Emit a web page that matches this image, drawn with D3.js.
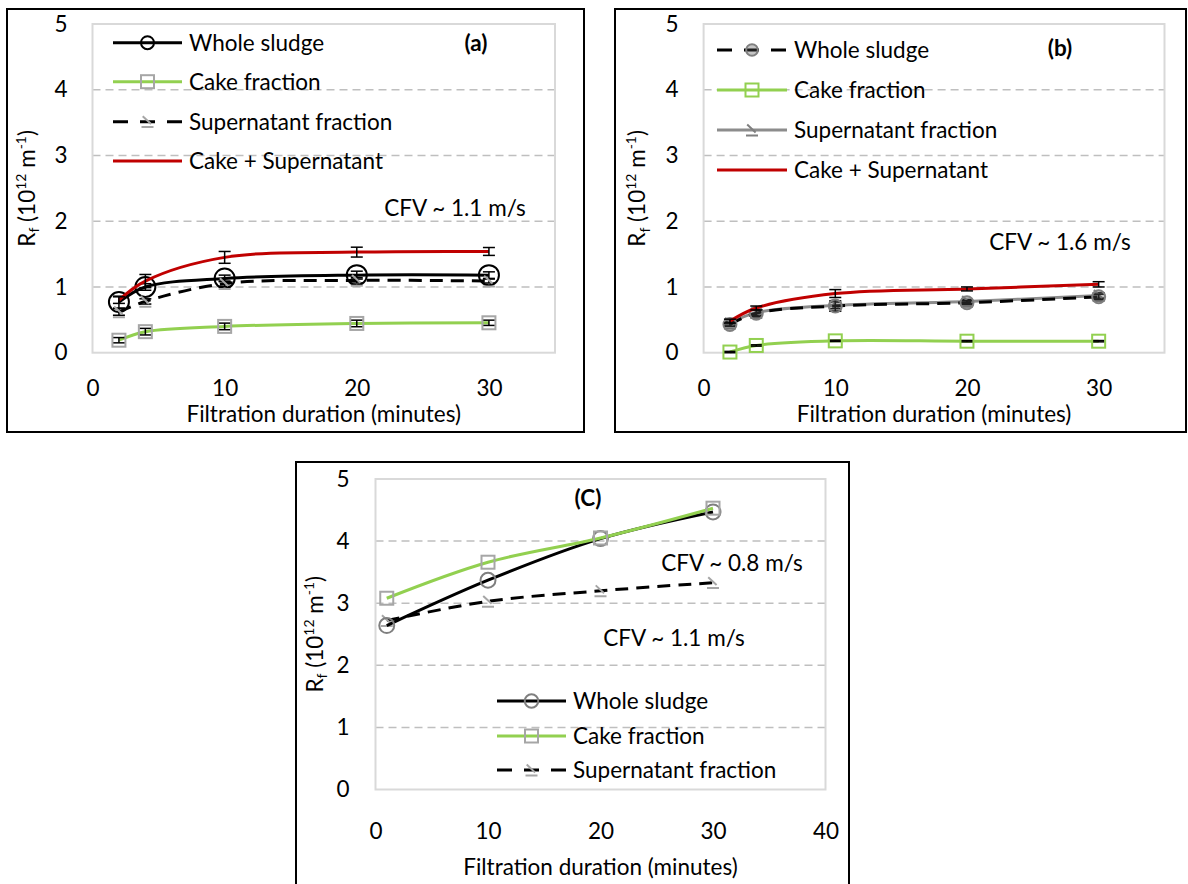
<!DOCTYPE html>
<html>
<head>
<meta charset="utf-8">
<script src="https://cdn.jsdelivr.net/npm/d3@7"></script>
<style>
  body { margin: 0; background: #fff; }
  svg { display: block; font-family: Lato, "Open Sans", sans-serif; }
</style>
</head>
<body>
<svg id="chart" width="1188" height="884"></svg>
<script>
// ---- Filtration times (minutes) ----
const minutesAB = [2, 4, 10, 20, 30];
const minutesC = [1, 10, 20, 30];

// ---- Panel (a): CFV ~ 1.1 m/s, fouling resistance (10^12 m^-1) ----
const wholeA = [0.77, 1.00, 1.13, 1.18, 1.18];
const wholeAErr = [0.09, 0.05, 0.05, 0.06, 0.05];
const cakeA = [0.19, 0.32, 0.40, 0.445, 0.455];
const cakeAErr = [0.04, 0.05, 0.05, 0.05, 0.04];
const superA = [0.62, 0.78, 1.05, 1.10, 1.09];
const superAErr = [0.05, 0.04, 0.04, 0.04, 0.03];
const sumA = [0.80, 1.09, 1.45, 1.53, 1.54];
const sumAErr = [0.05, 0.10, 0.09, 0.075, 0.06];

// ---- Panel (b): CFV ~ 1.6 m/s ----
const wholeB = [0.43, 0.60, 0.71, 0.76, 0.85];
const wholeBErr = [0.03, 0.05, 0.08, 0.03, 0.04];
const cakeB = [0.01, 0.11, 0.18, 0.175, 0.175];
const cakeBErr = [0.01, 0.01, 0.01, 0.01, 0.01];
const superB = [0.45, 0.61, 0.72, 0.78, 0.87];
const superBErr = [0.03, 0.04, 0.05, 0.03, 0.04];
const sumB = [0.48, 0.68, 0.90, 0.97, 1.04];
const sumBErr = [0.03, 0.03, 0.06, 0.03, 0.04];

// ---- Panel (c): whole sludge vs fractions ----
const wholeC = [2.64, 3.37, 4.04, 4.47];
const cakeC = [3.08, 3.66, 4.05, 4.53];
const superC = [2.72, 3.03, 3.20, 3.33];

// ---- Axis ticks ----
const yTicks = [0, 1, 2, 3, 4, 5];
const xTicksAB = [0, 10, 20, 30];
const xTicksC = [0, 10, 20, 30, 40];

// ---- Series labels ----
const lblWhole = "Whole sludge";
const lblCake = "Cake fraction";
const lblSuper = "Supernatant fraction";
const lblSum = "Cake + Supernatant";

const RED = "#c00000", GREEN = "#92d050", GRAY = "#a6a6a6", DGRAY = "#7f7f7f";
const FS = 22.5;

const svg = d3.select("#chart");
const smooth = d3.curveCatmullRom.alpha(0.5);

function drawMarker(g, m, cx, cy, scale) {
  const s = scale || 1;
  if (!m) return;
  if (m.type === "circle") {
    g.append("circle").attr("cx", cx).attr("cy", cy).attr("r", m.size * s)
      .attr("fill", m.fill || "none").attr("stroke", m.stroke).attr("stroke-width", 2);
  } else if (m.type === "square") {
    const h = m.size * s;
    g.append("rect").attr("x", cx - h).attr("y", cy - h).attr("width", 2 * h).attr("height", 2 * h)
      .attr("fill", m.fill || "none").attr("stroke", m.stroke).attr("stroke-width", 2);
  } else if (m.type === "angle") {
    const h = m.size * s;
    g.append("path")
      .attr("d", `M${cx - h * 0.8},${cy - h * 0.9} L${cx + h * 0.6},${cy + h * 0.4} M${cx - h},${cy + h * 0.9} L${cx + h},${cy + h * 0.9}`)
      .attr("fill", "none").attr("stroke", m.stroke).attr("stroke-width", 2);
  }
}

function yTitle(g, cx, cy) {
  const t = g.append("text")
    .attr("transform", `translate(${cx},${cy}) rotate(-90)`)
    .attr("text-anchor", "middle").attr("font-size", FS).attr("fill", "#000");
  const sm = FS * 0.62;
  t.append("tspan").text("R");
  t.append("tspan").attr("font-size", sm).attr("dy", FS * 0.22).text("f");
  t.append("tspan").attr("dy", -FS * 0.22).text(" (10");
  t.append("tspan").attr("font-size", sm).attr("dy", -FS * 0.38).text("12");
  t.append("tspan").attr("dy", FS * 0.38).text(" m");
  t.append("tspan").attr("font-size", sm).attr("dy", -FS * 0.38).text("-1");
  t.append("tspan").attr("dy", FS * 0.38).text(")");
}

function drawPanel(p) {
  const g = svg.append("g");
  // outer frame
  g.append("rect").attr("x", p.box[0]).attr("y", p.box[1])
    .attr("width", p.box[2] - p.box[0]).attr("height", p.box[3] - p.box[1])
    .attr("fill", "#fff").attr("stroke", "#000").attr("stroke-width", 2);

  const x = d3.scaleLinear().domain([0, p.xMax]).range([p.left, p.right]);
  const y = d3.scaleLinear().domain([0, 5]).range([p.bottom, p.top]);

  // dashed gridlines
  g.selectAll(null).data(yTicks.filter(v => v > 0 && v < 5)).join("line")
    .attr("x1", p.left).attr("x2", p.right)
    .attr("y1", d => y(d)).attr("y2", d => y(d))
    .attr("stroke", "#bfbfbf").attr("stroke-width", 1.5).attr("stroke-dasharray", "8,5");

  // plot-area border
  g.append("rect").attr("x", p.left).attr("y", p.top)
    .attr("width", p.right - p.left).attr("height", p.bottom - p.top)
    .attr("fill", "none").attr("stroke", "#d9d9d9").attr("stroke-width", 2);

  // axes (labels only)
  const xa = g.append("g").attr("transform", `translate(0,${p.bottom})`)
    .call(d3.axisBottom(x).tickValues(p.xTicks).tickSize(0).tickPadding(p.xPad).tickFormat(d3.format("d")));
  const ya = g.append("g").attr("transform", `translate(${p.left},0)`)
    .call(d3.axisLeft(y).tickValues(yTicks).tickSize(0).tickPadding(p.yPad).tickFormat(d3.format("d")));
  [xa, ya].forEach(a => {
    a.select(".domain").remove();
    a.selectAll("text").attr("font-size", FS).attr("font-family", "Lato, sans-serif").attr("fill", "#000");
  });

  // axis titles
  g.append("text").attr("x", (p.left + p.right) / 2).attr("y", p.xTitleY)
    .attr("text-anchor", "middle").attr("font-size", FS).text("Filtration duration (minutes)");
  yTitle(g, p.left - p.yTitleOff, (p.top + p.bottom) / 2);

  // series
  const line = d3.line().x(d => x(d[0])).y(d => y(d[1])).curve(smooth);
  p.series.forEach(s => {
    const pts = s.values.map((v, i) => [p.times[i], v]);
    g.append("path").attr("d", line(pts)).attr("fill", "none")
      .attr("stroke", s.color).attr("stroke-width", 3)
      .attr("stroke-dasharray", s.dash || null);
    if (s.err) {
      s.values.forEach((v, i) => {
        const cx = x(p.times[i]);
        const y1 = y(v + s.err[i]), y0 = y(v - s.err[i]);
        const eg = g.append("g").attr("stroke", "#000").attr("stroke-width", 1.5);
        eg.append("line").attr("x1", cx).attr("x2", cx).attr("y1", y1).attr("y2", y0);
        eg.append("line").attr("x1", cx - 6).attr("x2", cx + 6).attr("y1", y1).attr("y2", y1);
        eg.append("line").attr("x1", cx - 6).attr("x2", cx + 6).attr("y1", y0).attr("y2", y0);
      });
    }
    s.values.forEach((v, i) => drawMarker(g, s.marker, x(p.times[i]), y(v)));
  });

  // legend
  p.legend.rows.forEach((s, k) => {
    const ly = p.legend.y[k];
    const x0 = p.legend.x, x1 = p.legend.x + p.legend.len;
    g.append("line").attr("x1", x0).attr("x2", x1).attr("y1", ly).attr("y2", ly)
      .attr("stroke", s.color).attr("stroke-width", 3)
      .attr("stroke-dasharray", s.dash ? s.legendDash : null);
    drawMarker(g, s.marker, (x0 + x1) / 2, ly, s.legendScale || 0.7);
    g.append("text").attr("x", x1 + 7).attr("y", ly).attr("dy", "0.35em")
      .attr("font-size", FS).text(s.name);
  });

  // annotations
  p.notes.forEach(n => {
    g.append("text").attr("x", n.x).attr("y", n.y).attr("dy", "0.35em")
      .attr("text-anchor", "middle").attr("font-size", FS)
      .attr("font-weight", n.bold ? "bold" : null).text(n.text);
  });
}

// ---------- Panel (a) ----------
const sA = [
  { name: lblWhole, values: wholeA, err: wholeAErr, color: "#000",
    marker: { type: "circle", size: 10, stroke: "#000" }, legendScale: 0.65 },
  { name: lblCake, values: cakeA, err: cakeAErr, color: GREEN,
    marker: { type: "square", size: 6.5, stroke: GRAY }, legendScale: 1 },
  { name: lblSuper, values: superA, err: superAErr, color: "#000", dash: "13,8",
    legendDash: "15,12,15,12,15",
    marker: { type: "angle", size: 6, stroke: GRAY }, legendScale: 1 },
  { name: lblSum, values: sumA, err: sumAErr, color: RED }
];
drawPanel({
  box: [7, 9, 584, 432], left: 92.5, right: 555, top: 24, bottom: 352.7,
  xMax: 35, xTicks: xTicksAB, times: minutesAB, xPad: 27, yPad: 25,
  xTitleY: 422, yTitleOff: 58,
  series: [sA[0], sA[1], sA[2], sA[3]],
  legend: { x: 113, len: 69, y: [42.7, 81.7, 121.7, 161], rows: sA },
  notes: [
    { text: "(a)", x: 476, y: 43, bold: true },
    { text: "CFV ~ 1.1 m/s", x: 455, y: 208 }
  ]
});

// ---------- Panel (b) ----------
const sB = [
  { name: lblWhole, values: wholeB, err: wholeBErr, color: "#000", dash: "13,8",
    legendDash: "15,12,15,12,15",
    marker: { type: "circle", size: 6.5, stroke: DGRAY, fill: "rgba(90,90,90,0.35)" }, legendScale: 0.9 },
  { name: lblCake, values: cakeB, err: cakeBErr, color: GREEN,
    marker: { type: "square", size: 6.5, stroke: GREEN }, legendScale: 1 },
  { name: lblSuper, values: superB, err: superBErr, color: "#8c8c8c",
    marker: { type: "angle", size: 6, stroke: DGRAY }, legendScale: 1 },
  { name: lblSum, values: sumB, err: sumBErr, color: RED }
];
drawPanel({
  box: [615, 9, 1186, 432], left: 703.6, right: 1164.5, top: 24, bottom: 352.7,
  xMax: 35, xTicks: xTicksAB, times: minutesAB, xPad: 27, yPad: 25,
  xTitleY: 422, yTitleOff: 59,
  series: [sB[2], sB[0], sB[1], sB[3]],
  legend: { x: 717, len: 70, y: [50, 90, 130, 170], rows: sB },
  notes: [
    { text: "(b)", x: 1060, y: 48, bold: true },
    { text: "CFV ~ 1.6 m/s", x: 1060, y: 242 }
  ]
});

// ---------- Panel (c) ----------
const sC = [
  { name: lblWhole, values: wholeC, color: "#000",
    marker: { type: "circle", size: 7.5, stroke: DGRAY }, legendScale: 0.9 },
  { name: lblCake, values: cakeC, color: GREEN,
    marker: { type: "square", size: 6.5, stroke: GRAY }, legendScale: 1 },
  { name: lblSuper, values: superC, color: "#000", dash: "13,8",
    legendDash: "15,12,15,12,15",
    marker: { type: "angle", size: 6, stroke: GRAY }, legendScale: 1 }
];
drawPanel({
  box: [296, 462, 849, 900], left: 375.5, right: 825.5, top: 479, bottom: 789.5,
  xMax: 40, xTicks: xTicksC, times: minutesC, xPad: 34, yPad: 26,
  xTitleY: 875, yTitleOff: 53,
  series: [sC[2], sC[0], sC[1]],
  legend: { x: 497, len: 69, y: [701, 736, 770], rows: sC },
  notes: [
    { text: "(C)", x: 588, y: 498, bold: true },
    { text: "CFV ~ 0.8 m/s", x: 732, y: 563 },
    { text: "CFV ~ 1.1 m/s", x: 674, y: 638 }
  ]
});
</script>
</body>
</html>
